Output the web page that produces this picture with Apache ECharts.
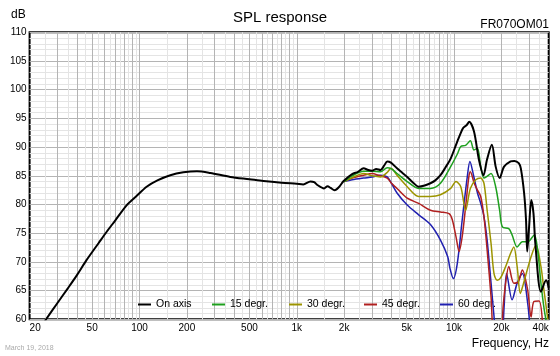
<!DOCTYPE html>
<html><head><meta charset="utf-8">
<script src="https://cdn.jsdelivr.net/npm/echarts@6/dist/echarts.min.js"></script>
<style>html,body{margin:0;padding:0;background:#fff}#c{width:560px;height:356px}</style>
</head><body><div id="c"></div>
<script>
// ---- data ----
const seriesNames = ['On axis', '15 degr.', '30 degr.', '45 degr.', '60 degr.'];
const seriesColors = ['#000000', '#1ea01e', '#9c9400', '#b02020', '#2020b0'];

const xTickValues = [20, 50, 100, 200, 500, 1000, 2000, 5000, 10000, 20000, 40000];
const xTickLabels = ['20', '50', '100', '200', '500', '1k', '2k', '5k', '10k', '20k', '40k'];

const onAxisFreq = [25,30,35,40,46,55,62,70,83,95,111,130,157,190,232,282,378,500,614,800,1000,1100,1222,1290,1352,1490,1570,1640,1740,1850,1986,2250,2450,2660,2850,3020,3200,3410,3600,3760,3970,4340,4700,5040,5500,5960,6500,7080,7600,8200,8800,9520,10400,11400,12000,12500,13400,14400,15400,16200,17400,18400,19500,20800,22900,24200,25800,26600,27900,28700,29200,30000,31000,32000,32900,35700,38500,40000];
const onAxisDb   = [59.7,62.8,65.4,67.7,70.3,73.3,75.3,77.2,79.9,81.4,83.1,84.2,85.1,85.6,85.8,85.5,84.8,84.4,84.1,83.8,83.6,83.5,84.0,83.9,83.4,82.8,83.2,82.9,82.5,83.0,84.1,85.3,85.7,86.3,86.0,85.9,86.2,86.0,86.8,87.5,87.3,86.3,85.5,84.8,83.8,83.1,83.3,83.7,84.2,85.1,86.4,88.0,90.7,93.3,93.8,94.4,92.7,87.8,85.1,87.8,90.4,86.6,84.6,86.6,87.5,87.6,87.2,86.3,82.0,77.3,71.8,76.0,80.8,78.5,73.2,64.8,66.8,65.5];

const deg15Freq = [2000,2250,2660,3020,3410,3760,4000,4340,5040,5960,7080,8200,9520,10500,11040,11850,12700,13400,14100,14780,15500,16200,17200,18400,19500,20300,22300,23400,25200,27200,29400,32400,34000,35700,37500,39000];
const deg15Db   = [84.0,85.0,85.8,85.8,85.7,86.4,86.2,85.4,84.0,82.8,82.8,83.7,86.6,88.8,90.1,90.3,91.1,89.5,89.8,86.6,84.6,84.9,85.4,83.1,79.0,76.1,75.8,74.7,72.6,73.5,73.5,74.7,72.1,66.3,61.6,59.0];

const deg30Freq = [2000,2300,2660,3020,3410,3760,3970,4340,5040,5960,7080,8200,9520,10290,11040,11850,12700,13750,14780,15500,16240,17200,17950,18800,19760,21300,22900,24000,25200,26400,27500,30900,33200,35700,37300,39500];
const deg30Db   = [84.0,84.8,85.4,85.0,84.8,85.6,86.3,85.1,83.1,81.4,81.4,81.7,82.8,84.0,83.1,79.0,82.8,84.3,84.6,83.7,79.0,73.2,68.0,66.8,67.2,69.2,71.5,72.6,69.2,64.5,66.0,70.9,72.9,69.2,65.1,60.0];

const deg45Freq = [2000,2250,2660,3020,3300,3760,4000,4340,5040,5960,7080,8200,9300,9740,10290,10770,11270,11850,12420,12700,13440,14100,14780,15500,16240,17200,18000,19700,20500,21300,22300,24000,25600,27200,29400,30900,32200,34700,36500];
const deg45Db   = [84.0,84.6,85.1,85.4,85.1,84.6,83.7,82.8,81.1,80.2,79.0,78.7,78.4,77.4,74.4,71.8,74.4,79.6,84.8,85.7,83.7,82.5,81.4,77.9,72.1,63.9,56.0,55.0,62.0,66.3,69.2,66.3,66.5,68.6,65.1,60.4,63.1,63.2,59.5];

const deg60Freq = [2000,2250,2660,3020,3410,3760,4000,4340,5040,5960,7080,8200,9120,9400,9900,10500,11270,12140,12620,13300,14100,14780,15500,16240,17200,17950,18700,20000,20800,21600,23400,25200,27200,29400,30500];
const deg60Db   = [84.0,84.3,84.6,84.8,85.1,84.8,83.7,82.0,79.9,78.2,76.5,73.8,70.9,69.0,67.1,69.8,77.3,84.8,87.5,85.1,82.0,80.2,77.9,73.8,66.3,60.6,56.0,56.0,62.0,68.0,63.4,66.3,68.0,62.8,58.0];

// ---- chart ----
const ff = '"Liberation Sans", Arial, sans-serif';
const pairs = (f, d) => f.map((x, i) => [x, d[i]]);
const freqs = [onAxisFreq, deg15Freq, deg30Freq, deg45Freq, deg60Freq];
const dbs = [onAxisDb, deg15Db, deg30Db, deg45Db, deg60Db];

// log grid lines: 1..9 x decade (major), 1.5..9.5 x decade (minor)
const majorGrid = [], minorGrid = [];
[10, 100, 1000, 10000].forEach(dec => {
  for (let m = 1; m <= 9; m++) {
    const a = m * dec, b = (m + 0.5) * dec;
    if (a > 20 && a < 40000) majorGrid.push(a);
    if (b > 20 && b < 40000) minorGrid.push(b);
  }
});

function tickLabel(v) {
  let best = 0, bd = Infinity;
  xTickValues.forEach((t, i) => { const d = Math.abs(Math.log(v / t)); if (d < bd) { bd = d; best = i; } });
  return xTickLabels[best];
}

const legendLeft = [138, 212, 289, 364, 440];

const series = [{
  type: 'line', name: '_grid', data: [[20, 60]], silent: true, z: 0,
  showSymbol: false, symbol: 'none', lineStyle: { width: 0, opacity: 0 },
  markLine: {
    z: 0, silent: true, symbol: ['none', 'none'], label: { show: false }, animation: false,
    emphasis: { disabled: true },
    data: minorGrid.map(f => ({ xAxis: f, lineStyle: { color: '#e4e4e4', width: 1, type: 'solid' } }))
      .concat(majorGrid.map(f => ({ xAxis: f, lineStyle: { color: '#b4b4b4', width: 1, type: 'solid' } })))
  }
}];
for (let i = seriesNames.length - 1; i >= 0; i--) {
  series.push({
    name: seriesNames[i], type: 'line', data: pairs(freqs[i], dbs[i]),
    showSymbol: false, symbol: 'none', smooth: 0.3, clip: true,
    z: i === 0 ? 6 : 5,
    lineStyle: { width: i === 0 ? 2 : 1.5, color: seriesColors[i] },
    itemStyle: { color: seriesColors[i] },
    emphasis: { disabled: true }
  });
}

const chart = echarts.init(document.getElementById('c'));
chart.setOption({
  animation: false,
  textStyle: { fontFamily: ff },
  title: [
    { text: 'SPL response', left: 'center', top: 10, padding: 0, textStyle: { fontSize: 15, fontWeight: 'normal', color: '#000', fontFamily: ff } },
    { text: 'FR070OM01', right: 11, top: 19, padding: 0, textStyle: { fontSize: 12, fontWeight: 'normal', color: '#000', fontFamily: ff } },
    { text: 'dB', left: 11, top: 9, padding: 0, textStyle: { fontSize: 12, fontWeight: 'normal', color: '#000', fontFamily: ff } },
    { text: 'Frequency, Hz', right: 11, top: 338, padding: 0, textStyle: { fontSize: 12, fontWeight: 'normal', color: '#000', fontFamily: ff } },
    { text: 'March 19, 2018', left: 5, top: 345, padding: 0, textStyle: { fontSize: 7, fontWeight: 'normal', color: '#aaaaaa', fontFamily: ff } }
  ],
  legend: seriesNames.map((n, i) => ({
    data: [n], left: legendLeft[i], top: 299, padding: 0, itemWidth: 13, itemHeight: 2,
    icon: 'rect', z: 1, selectedMode: false,
    textStyle: { fontSize: 10.5, color: '#000', fontFamily: ff }
  })),
  grid: { left: 29.6, right: 11.3, top: 32.3, bottom: 36.7, show: true, borderColor: '#000', borderWidth: 2, backgroundColor: 'transparent' },
  xAxis: {
    type: 'log', logBase: 10, min: 20, max: 40000,
    axisLine: { show: false }, axisTick: { show: false },
    splitLine: { show: false }, minorSplitLine: { show: false },
    axisLabel: {
      customValues: xTickValues, formatter: tickLabel, fontSize: 10, color: '#000', margin: 4,
      alignMinLabel: 'left', alignMaxLabel: 'right', fontFamily: ff
    }
  },
  yAxis: {
    type: 'value', min: 60, max: 110, interval: 5,
    axisLine: { show: false }, axisTick: { show: false },
    axisLabel: { fontSize: 10, color: '#000', margin: 3, fontFamily: ff },
    splitLine: { show: true, lineStyle: { color: '#b4b4b4', width: 1 } },
    minorTick: { show: false, splitNumber: 5 },
    minorSplitLine: { show: true, lineStyle: { color: '#e4e4e4', width: 1 } }
  },
  series: series
});
</script>
</body></html>
